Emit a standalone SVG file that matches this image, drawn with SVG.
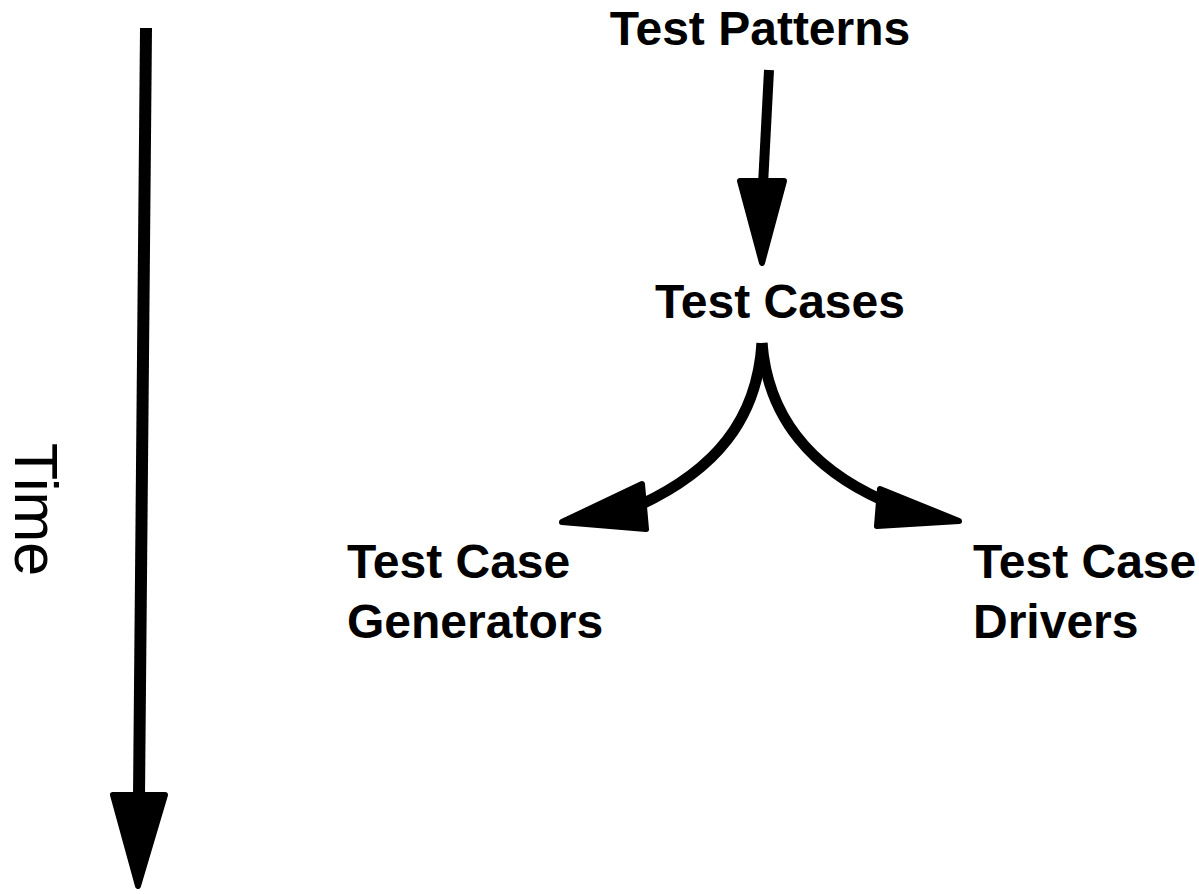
<svg xmlns="http://www.w3.org/2000/svg" width="1199" height="894" viewBox="0 0 1199 894">
<style>
.lbl{font-family:"Liberation Sans",Arial,sans-serif;font-weight:bold;font-size:48px;fill:#000}
.time{font-family:"Liberation Sans",Arial,sans-serif;font-size:61px;fill:#000}
.ln{fill:none;stroke:#000;stroke-width:10;stroke-linecap:butt}
.cv{stroke-width:11}
.hd{fill:#000;stroke:#000;stroke-width:6;stroke-linejoin:round}
</style>
<rect width="1199" height="894" fill="#fff"/>
<g id="connectors">
<path class="ln" d="M146 28 L139 797" style="stroke-width:12"/>
<polygon class="hd" points="113,795 165,795 138,886"/>
<path class="ln" d="M769 70 L763 185"/>
<polygon class="hd" points="740,181 784,181 762,263"/>
<path class="ln cv" d="M762 343 C757 420 715 470 640 505"/>
<polygon class="hd" points="642,484 646,529 562,522"/>
<path class="ln cv" d="M762 343 C768 420 815 470 882 500"/>
<polygon class="hd" points="880,489 877,526 959,521"/>
</g>
<g id="time"><text class="time" transform="translate(15,443) rotate(90)">Time</text></g>
<g id="test-patterns"><text class="lbl" x="760" y="45" text-anchor="middle">Test Patterns</text></g>
<g id="test-cases"><text class="lbl" x="780" y="318" text-anchor="middle">Test Cases</text></g>
<g id="generators"><text class="lbl" x="347" y="578">Test Case</text><text class="lbl" x="347" y="638">Generators</text></g>
<g id="drivers"><text class="lbl" x="973" y="578">Test Case</text><text class="lbl" x="973" y="638">Drivers</text></g>
</svg>
